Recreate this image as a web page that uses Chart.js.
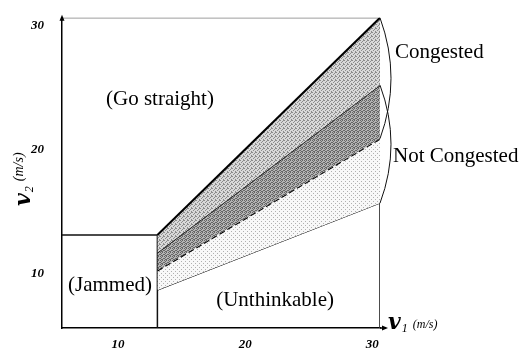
<!DOCTYPE html>
<html>
<head>
<meta charset="utf-8">
<script src="https://cdn.jsdelivr.net/npm/chart.js@4.4.0/dist/chart.umd.min.js"></script>
<style>
  html, body { margin: 0; padding: 0; background: #fff; }
</style>
</head>
<body>
<canvas id="regionChart" width="530" height="348"></canvas>
<script>
// v1 where the sloped boundaries start and end (m/s)
var v1Range = [13.1, 30.6];
// v2 of each boundary at those two v1 values
var upperBound = [13.1, 30.6];      // v2 = v1
var congestedLine = [11.67, 25.17];
var dashedLine = [10.23, 20.86];
var lowerBound = [8.64, 15.66];
// corner of the jammed box
var jamLimit = [13.1, 13.1];
var axisMin = 5.6;
var axisMax = 30.6;
var tickValues = [10, 20, 30];

function line(ys) {
  return v1Range.map(function (x, i) { return { x: x, y: ys[i] }; });
}

// little stipple textures for the shaded bands
function stipple(bg, dot, size, dots) {
  var c = document.createElement('canvas');
  c.width = size; c.height = size;
  var g = c.getContext('2d');
  g.fillStyle = bg; g.fillRect(0, 0, size, size);
  g.fillStyle = dot;
  dots.forEach(function (d) { g.fillRect(d[0], d[1], 1, 1); });
  return g.createPattern(c, 'repeat');
}
var bandTop = stipple('#d9d9d9', '#8c8c8c', 4, [[0, 0], [2, 1], [1, 2], [3, 3], [3, 0]]);
var bandMid = stipple('#b4b4b4', '#666666', 4, [[0, 0], [2, 0], [1, 1], [3, 2], [0, 2], [2, 3], [1, 3]]);
var bandLow = stipple('#f8f8f8', '#b0b0b0', 4, [[1, 1], [3, 3]]);

var tickFont = { family: 'Liberation Serif', style: 'italic', weight: 'bold', size: 13 };

var annotate = {
  id: 'annotate',
  afterDraw: function (chart) {
    var ctx = chart.ctx, xs = chart.scales.x, ys = chart.scales.y;
    var px = function (v) { return xs.getPixelForValue(v); };
    var py = function (v) { return ys.getPixelForValue(v); };
    var right = px(axisMax), bottom = py(axisMin), left = px(axisMin), top = py(axisMax);
    ctx.save();

    // braces on the right edge
    ctx.strokeStyle = '#111';
    ctx.lineWidth = 1;
    [[upperBound[1], dashedLine[1]], [congestedLine[1], lowerBound[1]]].forEach(function (b) {
      var y0 = py(b[0]), y1 = py(b[1]);
      ctx.beginPath();
      ctx.moveTo(right, y0);
      ctx.quadraticCurveTo(right + 22, (y0 + y1) / 2, right, y1);
      ctx.stroke();
    });

    // axis arrow heads
    ctx.fillStyle = '#000';
    ctx.strokeStyle = '#000';
    ctx.lineWidth = 1.5;
    ctx.beginPath(); ctx.moveTo(right, bottom); ctx.lineTo(right + 6, bottom); ctx.stroke();
    ctx.beginPath();
    ctx.moveTo(right + 8, bottom); ctx.lineTo(right + 2, bottom - 2.5); ctx.lineTo(right + 2, bottom + 2.5);
    ctx.closePath(); ctx.fill();
    ctx.beginPath();
    ctx.moveTo(left, top - 3); ctx.lineTo(left - 2.5, top + 3); ctx.lineTo(left + 2.5, top + 3);
    ctx.closePath(); ctx.fill();

    // region labels
    ctx.fillStyle = '#000';
    ctx.textAlign = 'center';
    ctx.textBaseline = 'middle';
    ctx.font = '21px "Liberation Serif"';
    ctx.fillText('(Go straight)', px(13.3), py(24.05));
    ctx.fillText('(Jammed)', px(9.37), py(9.0));
    ctx.fillText('(Unthinkable)', px(22.35), py(7.84));
    ctx.textAlign = 'left';
    ctx.fillText('Congested', right + 15, py(27.8));
    ctx.fillText('Not Congested', right + 13, py(19.4));

    // axis titles
    ctx.textBaseline = 'alphabetic';
    function title(sub, unitSize, unitRise) {
      ctx.font = 'italic bold 22px "DejaVu Serif"';
      ctx.fillText('v', 0, 0);
      var w = ctx.measureText('v').width;
      ctx.font = 'italic 12px "Liberation Serif"';
      ctx.fillText(sub, w + 1, 3);
      ctx.font = 'italic ' + unitSize + 'px "Liberation Serif"';
      ctx.fillText('(m/s)', w + 12, -unitRise);
    }
    ctx.save();
    ctx.translate(right + 8, bottom + 1);
    title('1', 12, 1);
    ctx.restore();
    ctx.save();
    ctx.translate(30, 206);
    ctx.rotate(-Math.PI / 2);
    title('2', 14, 7);
    ctx.restore();

    ctx.restore();
  }
};

new Chart(document.getElementById('regionChart'), {
  type: 'scatter',
  data: {
    datasets: [
      { data: line(upperBound), showLine: true, borderColor: '#000', borderWidth: 2,
        pointRadius: 0, fill: '+1', backgroundColor: bandTop },
      { data: line(congestedLine), showLine: true, borderColor: '#000', borderWidth: 1.5,
        pointRadius: 0, fill: '+1', backgroundColor: bandMid },
      { data: line(dashedLine), showLine: true, borderColor: '#000', borderWidth: 2,
        borderDash: [6, 3], pointRadius: 0, fill: '+1', backgroundColor: bandLow },
      { data: line(lowerBound), showLine: true, borderColor: '#000', borderWidth: 1,
        pointRadius: 0, fill: false },
      { data: [{ x: axisMin, y: jamLimit[1] }, { x: jamLimit[0], y: jamLimit[1] }, { x: jamLimit[0], y: axisMin }],
        showLine: true, borderColor: '#111', borderWidth: 1.5, pointRadius: 0, fill: false },
      { data: [{ x: axisMin, y: axisMax }, { x: axisMax, y: axisMax }, { x: axisMax, y: axisMin }],
        showLine: true, borderColor: '#333', borderWidth: 1, pointRadius: 0, fill: false }
    ]
  },
  options: {
    responsive: false,
    animation: false,
    layout: { padding: { left: 0, right: 150, top: 15, bottom: 0 } },
    plugins: { legend: { display: false }, tooltip: { enabled: false } },
    scales: {
      x: {
        type: 'linear', min: axisMin, max: axisMax,
        afterBuildTicks: function (s) { s.ticks = tickValues.map(function (v) { return { value: v }; }); },
        afterFit: function (s) { s.height = 20; },
        grid: { display: false },
        border: { color: '#000', width: 1.5 },
        ticks: { padding: 1, color: '#000', font: tickFont }
      },
      y: {
        type: 'linear', min: axisMin, max: axisMax,
        afterBuildTicks: function (s) { s.ticks = tickValues.map(function (v) { return { value: v }; }); },
        afterFit: function (s) { s.width = 62; },
        grid: { display: false },
        border: { color: '#000', width: 1.5 },
        ticks: { padding: 10, color: '#000', font: tickFont }
      }
    }
  },
  plugins: [annotate]
});
</script>
</body>
</html>
